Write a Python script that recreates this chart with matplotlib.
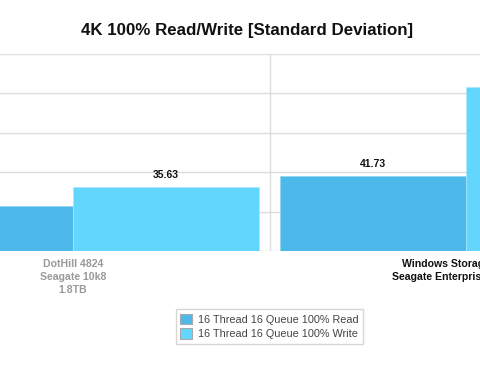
import matplotlib
matplotlib.use("Agg")
import matplotlib.pyplot as plt
import numpy as np

plt.rcParams['font.family'] = ['Liberation Sans', 'DejaVu Sans']

# data
groups = ["DotHill 4824\nSeagate 10k8\n1.8TB", "Windows Storage Spaces\nSeagate Enterprise 10K 1.8TB"]
read_vals = [25.3, 41.73]
write_vals = [35.63, 91.3]
series = ["16 Thread 16 Queue 100% Read", "16 Thread 16 Queue 100% Write"]

read_col = "#4db9ea"
write_col = "#63d6fe"

fig = plt.figure(figsize=(4.8, 3.74), dpi=100)
# the original chart is wider than the picture, so the axes run past both edges
ax = fig.add_axes([-0.257, 0.329, 1.6375, 0.527])

x = np.arange(len(groups))
w = 0.4733
b1 = ax.bar(x - w / 2, read_vals, w, color=read_col, edgecolor="#8fd4f2", linewidth=0.5, label=series[0], zorder=2)
b2 = ax.bar(x + w / 2, write_vals, w, color=write_col, edgecolor="#a9e8ff", linewidth=0.5, label=series[1], zorder=2)

for bars in (b1, b2):
    for r in bars:
        ax.text(r.get_x() + r.get_width() / 2, r.get_height() + 4, f"{r.get_height():.2f}",
                ha="center", va="bottom", fontsize=7.5, fontweight="bold", color="#111")

ax.set_xlim(-0.5, 1.5)
ax.set_ylim(0, 110)
ax.set_yticks(np.arange(0, 111, 22))
ax.yaxis.grid(True, color="#dddddd", linewidth=1, zorder=0)
ax.axvline(0.5, color="#dddddd", linewidth=1, zorder=0)
for s in ax.spines.values():
    s.set_visible(False)
ax.tick_params(length=0)
ax.set_yticklabels([])
ax.set_xticks(x)
ax.set_xticklabels(groups, fontsize=7.6, fontweight="bold", linespacing=1.35)
ax.tick_params(axis="x", pad=6)
ax.get_xticklabels()[0].set_color("#999999")
ax.get_xticklabels()[1].set_color("#111111")

fig.text(247.5 / 480, 1 - 30 / 374, "4K 100% Read/Write [Standard Deviation]",
         ha="center", va="center", fontsize=12.2, fontweight="bold", color="#111")

leg = fig.legend(handles=[b1, b2], loc="center", bbox_to_anchor=(269.5 / 480, 1 - 326.5 / 374),
                 fontsize=7.8, frameon=True, fancybox=False, edgecolor="#cccccc",
                 handlelength=1.1, handleheight=1.1, handletextpad=0.6, borderpad=0.4, labelspacing=0.35)
for t in leg.get_texts():
    t.set_color("#444444")
for p in leg.get_patches():
    p.set_edgecolor("#aaaaaa")
    p.set_linewidth(0.8)

fig.savefig("out.png", dpi=100)
